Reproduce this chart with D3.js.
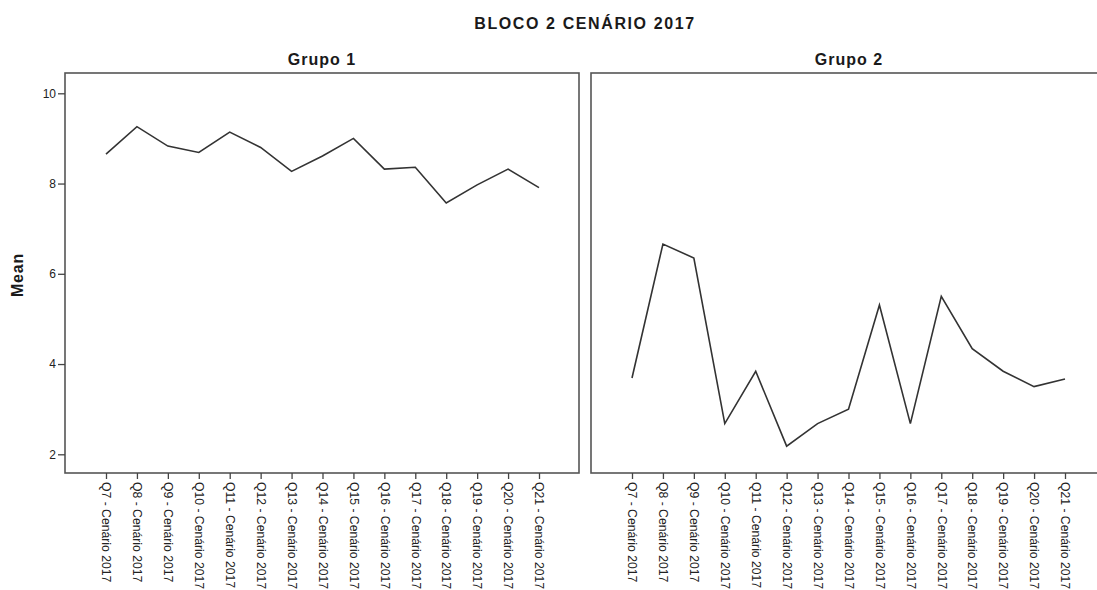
<!DOCTYPE html>
<html><head><meta charset="utf-8">
<script src="https://cdn.jsdelivr.net/npm/d3@7"></script>
<style>body{margin:0;background:#fff}svg{display:block}</style>
</head><body>
<svg id="c" width="1097" height="590"></svg>
<script>
const categories = ["Q7 - Cenário 2017","Q8 - Cenário 2017","Q9 - Cenário 2017","Q10 - Cenário 2017","Q11 - Cenário 2017","Q12 - Cenário 2017","Q13 - Cenário 2017","Q14 - Cenário 2017","Q15 - Cenário 2017","Q16 - Cenário 2017","Q17 - Cenário 2017","Q18 - Cenário 2017","Q19 - Cenário 2017","Q20 - Cenário 2017","Q21 - Cenário 2017"];
const grupo1 = [8.65,9.26,8.83,8.69,9.14,8.80,8.27,8.61,9.00,8.32,8.36,7.57,7.97,8.32,7.91];
const grupo2 = [3.69,6.66,6.35,2.68,3.84,2.18,2.68,3.00,5.31,2.68,5.50,4.34,3.84,3.50,3.67];
const yTicks = [2,4,6,8,10];
const panelTitles = ["Grupo 1","Grupo 2"];
const chartTitle = "BLOCO 2 CENÁRIO 2017";
const yLabel = "Mean";

const svg = d3.select("#c");
const font = "'Liberation Sans', Arial, sans-serif";
const boxTop = 73, boxBottom = 473;
const y = d3.scaleLinear().domain([2,10]).range([454.3,93.3]);

const panels = [
  {x0:65, x1:579, p0:106, p1:539, data:grupo1, title:panelTitles[0], tx:322},
  {x0:591, x1:1106, p0:632, p1:1065, data:grupo2, title:panelTitles[1], tx:849}
];

svg.append("text").attr("x",585).attr("y",29).attr("text-anchor","middle")
  .attr("font-family",font).attr("font-weight","bold").attr("font-size",16).attr("letter-spacing",1.6)
  .attr("fill","#1a1a1a").text(chartTitle);

panels.forEach((p,i)=>{
  const x = d3.scalePoint().domain(categories).range([p.p0,p.p1]);
  svg.append("rect").attr("x",p.x0).attr("y",boxTop).attr("width",p.x1-p.x0).attr("height",boxBottom-boxTop)
    .attr("fill","none").attr("stroke","#555").attr("stroke-width",1.6);
  svg.append("text").attr("x",p.tx).attr("y",65).attr("text-anchor","middle")
    .attr("font-family",font).attr("font-weight","bold").attr("font-size",16).attr("letter-spacing",1)
    .attr("fill","#1a1a1a").text(p.title);
  const gx = svg.append("g").attr("transform",`translate(0,${boxBottom})`)
    .call(d3.axisBottom(x).tickSize(6).tickPadding(3));
  gx.select(".domain").remove();
  gx.selectAll(".tick line").attr("stroke","#444").attr("stroke-width",1.3);
  gx.selectAll(".tick text").attr("font-family",font).attr("font-size",12.2).attr("fill","#222")
    .attr("text-anchor","start").attr("transform","rotate(90)").attr("x",9).attr("y",0).attr("dy","0.35em");
  if(i===0){
    const gy = svg.append("g").attr("transform",`translate(${p.x0},0)`)
      .call(d3.axisLeft(y).tickValues(yTicks).tickSize(7).tickPadding(2));
    gy.select(".domain").remove();
    gy.selectAll(".tick line").attr("stroke","#444").attr("stroke-width",1.3);
    gy.selectAll(".tick text").attr("font-family",font).attr("font-size",12).attr("fill","#222");
  }
  const line = d3.line().x((d,j)=>x(categories[j])).y(d=>y(d));
  svg.append("path").datum(p.data).attr("d",line).attr("fill","none")
    .attr("stroke","#333").attr("stroke-width",1.6).attr("stroke-linejoin","miter");
});

svg.append("text").attr("transform","translate(23,275) rotate(-90)").attr("text-anchor","middle")
  .attr("font-family",font).attr("font-weight","bold").attr("font-size",16).attr("letter-spacing",0.8)
  .attr("fill","#1a1a1a").text(yLabel);
</script>
</body></html>
